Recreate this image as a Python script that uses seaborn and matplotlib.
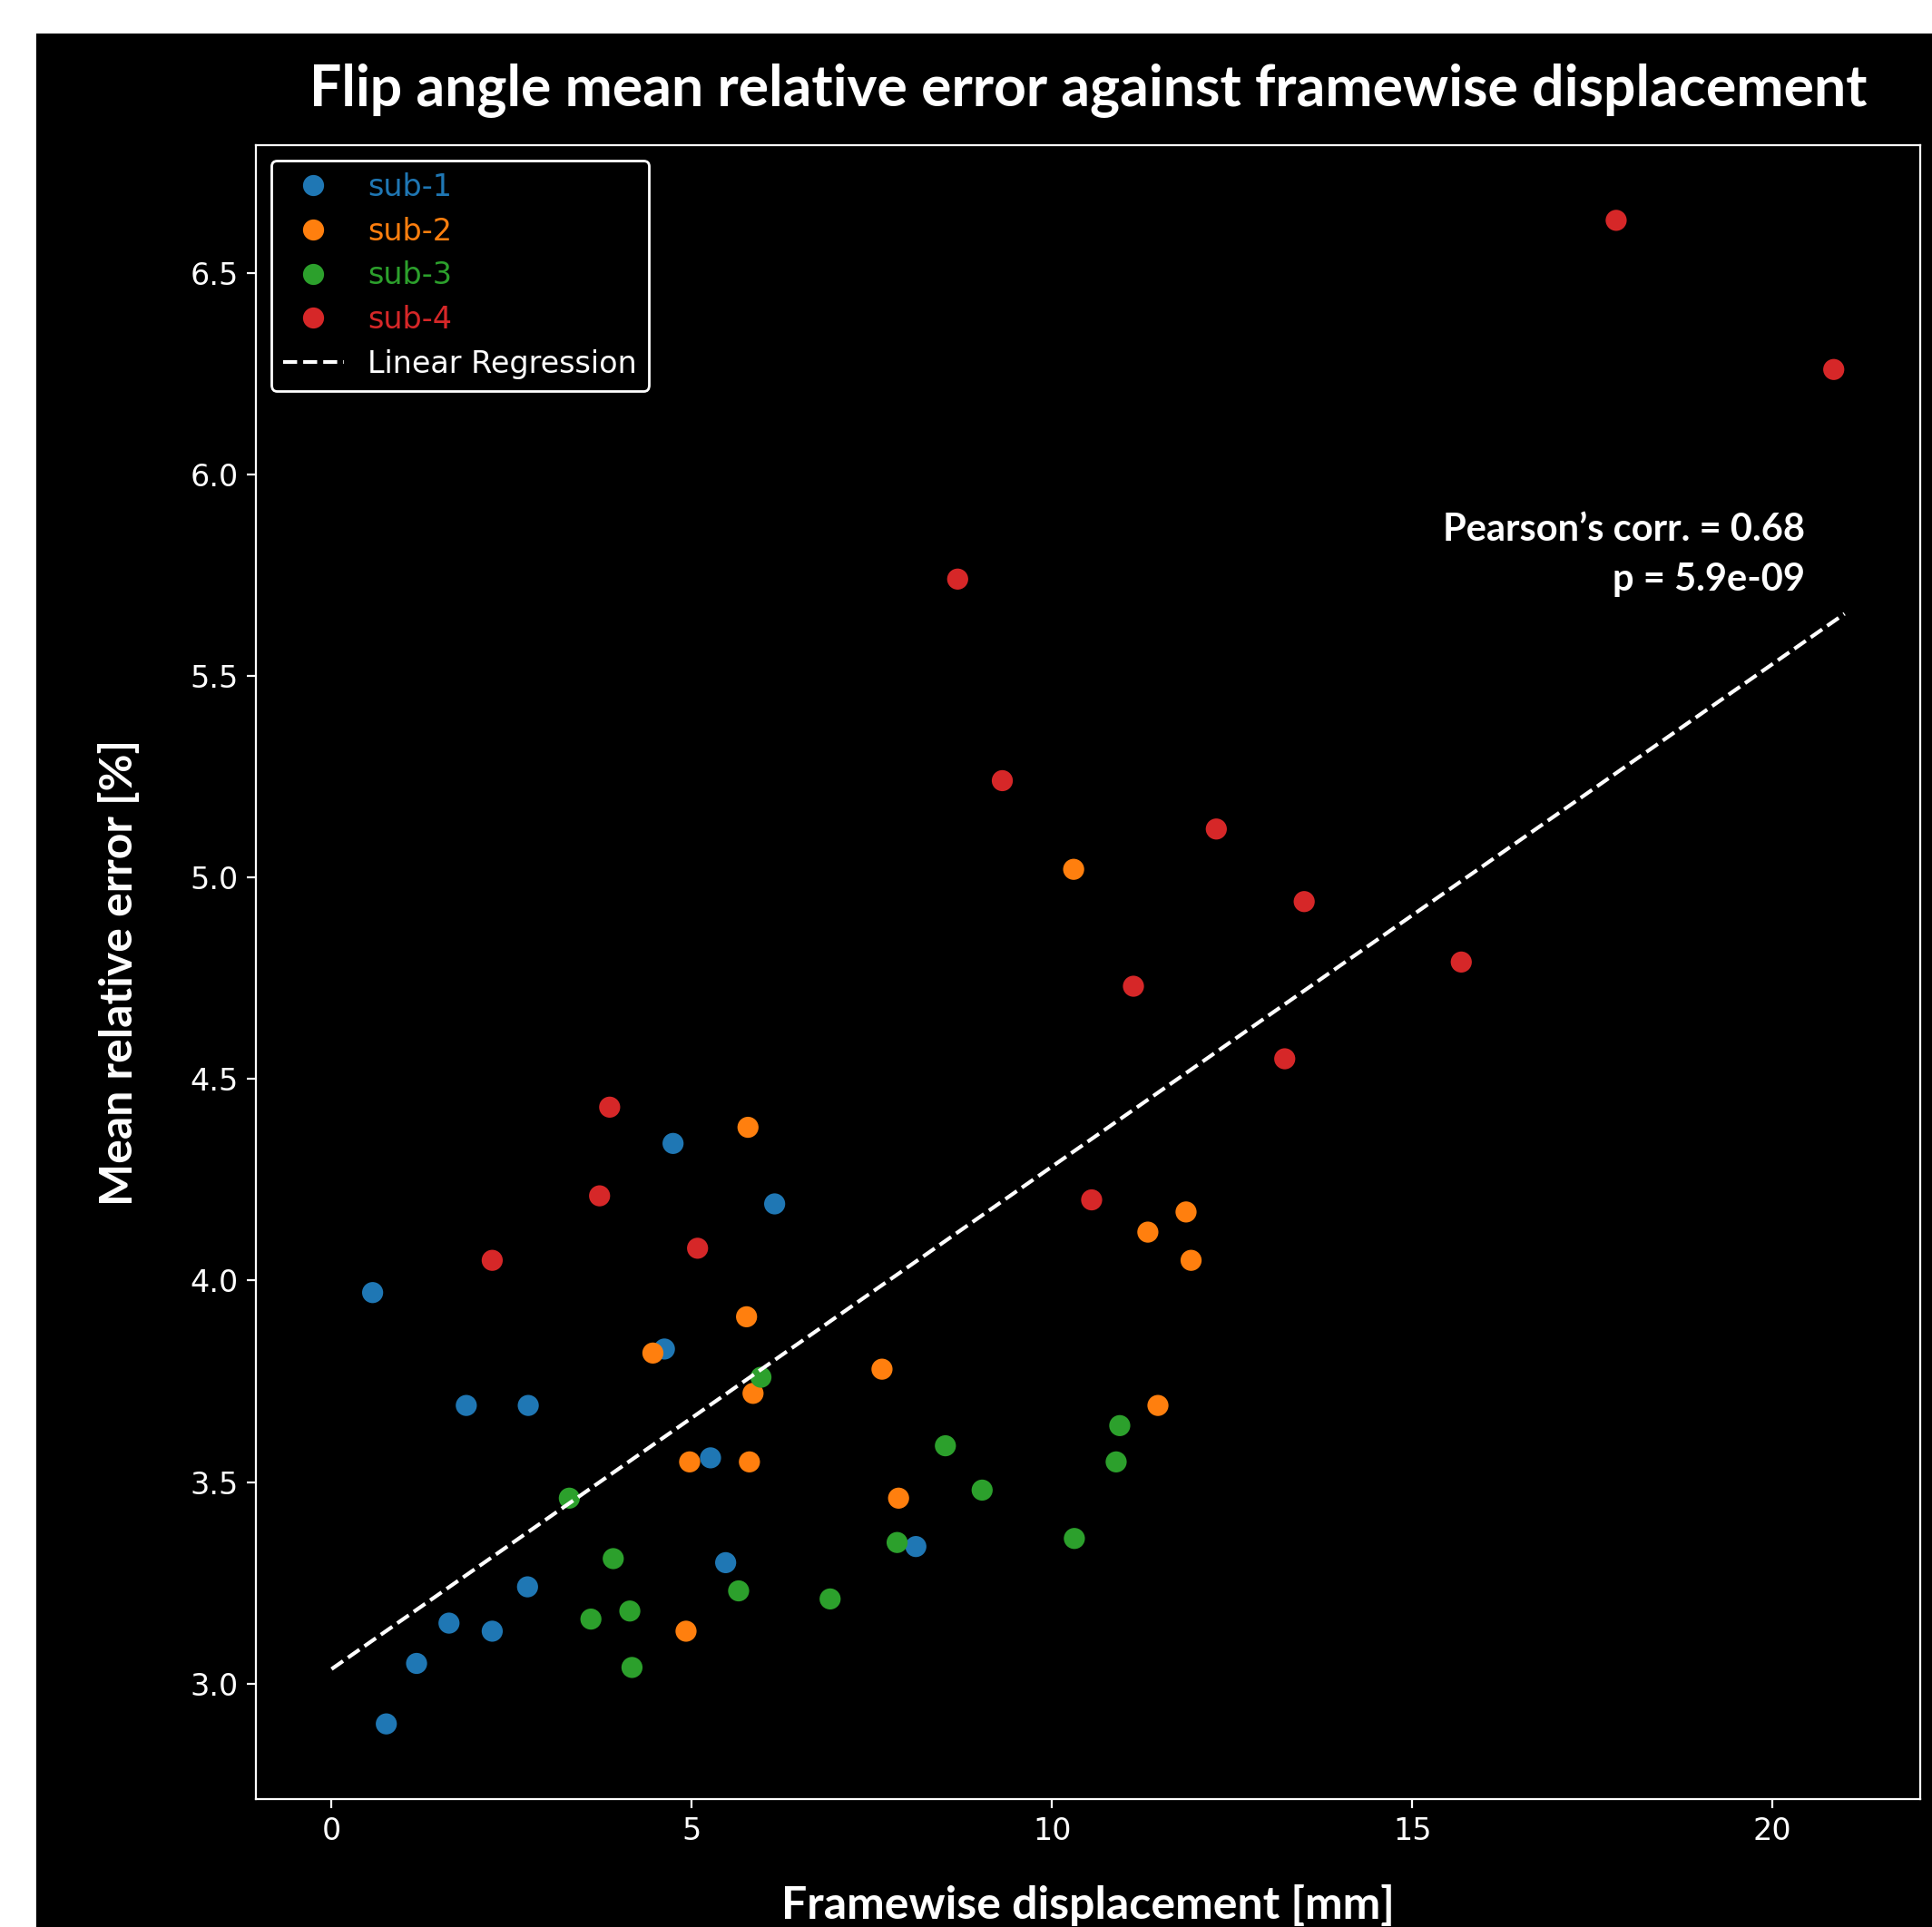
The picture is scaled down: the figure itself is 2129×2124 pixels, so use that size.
import matplotlib
matplotlib.use("Agg")
import matplotlib.pyplot as plt
import pandas as pd
import seaborn as sns
from matplotlib.patches import Rectangle

# framewise displacement [mm] and mean relative error [%] per subject
subjects = ["sub-1", "sub-2", "sub-3", "sub-4"]
sub1_fd = [0.57, 0.76, 1.18, 1.63, 1.87, 2.23, 2.73, 2.72, 4.62, 4.74, 5.26, 5.47, 6.15, 8.11]
sub1_err = [3.97, 2.90, 3.05, 3.15, 3.69, 3.13, 3.69, 3.24, 3.83, 4.34, 3.56, 3.30, 4.19, 3.34]
sub2_fd = [4.46, 4.92, 4.97, 5.76, 5.78, 5.80, 5.85, 7.64, 7.87, 10.30, 11.33, 11.47, 11.86, 11.93]
sub2_err = [3.82, 3.13, 3.55, 3.91, 4.38, 3.55, 3.72, 3.78, 3.46, 5.02, 4.12, 3.69, 4.17, 4.05]
sub3_fd = [3.30, 3.60, 3.91, 4.14, 4.17, 5.65, 5.96, 6.92, 7.85, 8.52, 9.03, 10.31, 10.89, 10.94]
sub3_err = [3.46, 3.16, 3.31, 3.18, 3.04, 3.23, 3.76, 3.21, 3.35, 3.59, 3.48, 3.36, 3.55, 3.64]
sub4_fd = [2.23, 3.72, 3.86, 5.08, 8.69, 9.31, 10.55, 11.13, 12.28, 13.23, 13.50, 15.68, 17.83, 20.85]
sub4_err = [4.05, 4.21, 4.43, 4.08, 5.74, 5.24, 4.20, 4.73, 5.12, 4.55, 4.94, 4.79, 6.63, 6.26]

# fitted regression line end points
reg_fd = [0.0, 21.0]
reg_err = [3.036, 5.654]
pearson_r = 0.68
pearson_p = 5.9e-09

colors = ["#1f77b4", "#ff7f0e", "#2ca02c", "#d62728"]

df = pd.concat(
    [
        pd.DataFrame({"fd": fd, "err": err, "subject": name})
        for name, fd, err in zip(
            subjects,
            [sub1_fd, sub2_fd, sub3_fd, sub4_fd],
            [sub1_err, sub2_err, sub3_err, sub4_err],
        )
    ],
    ignore_index=True,
)

plt.style.use("dark_background")
plt.rcParams.update({"font.family": ["DejaVu Sans"], "font.size": 12})
bold_font = {"family": ["Lato", "DejaVu Sans"], "weight": "bold"}

W, H = 2129, 2124
fig = plt.figure(figsize=(W / 200, H / 200), dpi=200, facecolor="black")
ax = fig.add_axes([282 / W, 1 - 1983 / H, (2116 - 282) / W, (1983 - 160) / H])
ax.set_facecolor("black")

sns.scatterplot(
    data=df, x="fd", y="err", hue="subject", hue_order=subjects,
    palette=colors, s=70, linewidth=0, ax=ax,
)
seaborn_legend = ax.get_legend()
handles = list(seaborn_legend.legend_handles)
seaborn_legend.remove()

line, = ax.plot(reg_fd, reg_err, color="white", linestyle="--", linewidth=1.5)
handles.append(line)

leg = ax.legend(handles, subjects + ["Linear Regression"], loc="upper left",
                fontsize=12, labelspacing=0.47, edgecolor="white",
                facecolor="black", framealpha=1)
for text, c in zip(leg.get_texts(), colors + ["white"]):
    text.set_color(c)

ax.text(20.45, 5.80, f"Pearson\u2019s corr. = {pearson_r:.2f}\np = {pearson_p:.1e}",
        ha="right", va="center", color="white", fontsize=15, linespacing=1.55,
        fontdict=bold_font)

ax.set_title("Flip angle mean relative error against framewise displacement",
             fontdict=bold_font, fontsize=22.5, color="white", pad=16)
ax.set_xlabel("Framewise displacement [mm]", fontdict=bold_font, fontsize=18, labelpad=15)
ax.set_ylabel("Mean relative error [%]", fontdict=bold_font, fontsize=18, labelpad=20)
ax.set_xticks([0, 5, 10, 15, 20])
ax.set_yticks([3.0, 3.5, 4.0, 4.5, 5.0, 5.5, 6.0, 6.5])
ax.tick_params(labelsize=12)

# white screenshot margins on the left and top
fig.add_artist(Rectangle((0, 0), 38 / W, 1, transform=fig.transFigure,
                         color="white", zorder=10))
fig.add_artist(Rectangle((0, 1 - 35 / H), 1, 35 / H, transform=fig.transFigure,
                         color="white", zorder=10))

fig.savefig("out.png", dpi=200, facecolor="black")
